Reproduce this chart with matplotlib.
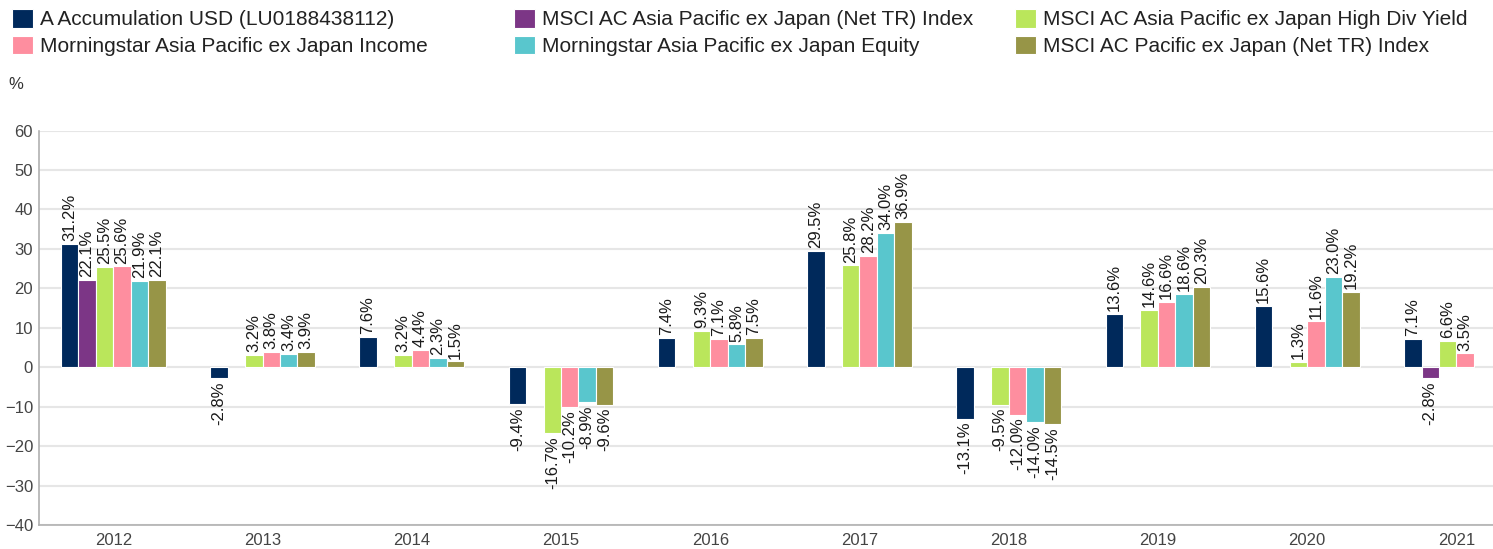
import numpy as np
import matplotlib
matplotlib.use('Agg')
import matplotlib.pyplot as plt

plt.rcParams['font.family'] = ['Liberation Sans', 'DejaVu Sans']

# Calendar year returns (%)
years = ['2012', '2013', '2014', '2015', '2016', '2017', '2018', '2019', '2020', '2021']
nan = np.nan
fund = [31.2, -2.8, 7.6, -9.4, 7.4, 29.5, -13.1, 13.6, 15.6, 7.1]
msci_apxj = [22.1, nan, nan, nan, nan, nan, nan, nan, nan, -2.8]
msci_hdy = [25.5, 3.2, 3.2, -16.7, 9.3, 25.8, -9.5, 14.6, 1.3, 6.6]
ms_income = [25.6, 3.8, 4.4, -10.2, 7.1, 28.2, -12.0, 16.6, 11.6, 3.5]
ms_equity = [21.9, 3.4, 2.3, -8.9, 5.8, 34.0, -14.0, 18.6, 23.0, nan]
msci_pxj = [22.1, 3.9, 1.5, -9.6, 7.5, 36.9, -14.5, 20.3, 19.2, nan]

series = [fund, msci_apxj, msci_hdy, ms_income, ms_equity, msci_pxj]
names = ['A Accumulation USD (LU0188438112)',
         'MSCI AC Asia Pacific ex Japan (Net TR) Index',
         'MSCI AC Asia Pacific ex Japan High Div Yield',
         'Morningstar Asia Pacific ex Japan Income',
         'Morningstar Asia Pacific ex Japan Equity',
         'MSCI AC Pacific ex Japan (Net TR) Index']
colors = ['#00295b', '#7c3686', '#bae65b', '#fe8e9f', '#59c6cd', '#979547']

fig = plt.figure(figsize=(14.93, 5.49), dpi=100)
ax = fig.add_axes([0.0259, 0.0437, 1 - 0.0259, 0.7184])

x = np.arange(len(years))
w = 0.117
bars = []
for i, (vals, c) in enumerate(zip(series, colors)):
    vals = np.array(vals, dtype=float)
    pos = x + (i - 2.5) * w
    b = ax.bar(pos, vals, width=w, color=c, edgecolor='white', linewidth=0.8, zorder=3)
    bars.append(b)
    for px, v in zip(pos, vals):
        if np.isnan(v):
            continue
        ax.annotate(f'{v:.1f}%', (px, v), xytext=(0, 2 if v >= 0 else -2),
                    textcoords='offset points', rotation=90, ha='center',
                    va='bottom' if v >= 0 else 'top', fontsize=12, color='#1a1a1a',
                    zorder=4)

ax.set_xlim(-0.5, 9.245)
ax.set_ylim(-40, 60)
ax.set_yticks(range(-40, 61, 10))
ax.set_xticks(x)
ax.set_xticklabels(years)
ax.tick_params(axis='both', length=0, labelsize=12, labelcolor='#444444')
ax.tick_params(axis='x', pad=6)
ax.tick_params(axis='y', pad=4)
ax.grid(axis='y', color='#e6e6e6', linewidth=1.5, zorder=0)
for s in ['top', 'right']:
    ax.spines[s].set_visible(False)
for s in ['left', 'bottom']:
    ax.spines[s].set_color('#b0b0b0')
    ax.spines[s].set_linewidth(1.2)

fig.text(0.0055, 0.846, '%', fontsize=12, color='#333333', va='center')

# legend laid out as three columns
col_x = [12, 514, 1015]
for k, cx in enumerate(col_x):
    idx = [k, k + 3]
    fig.legend([bars[j] for j in idx], [names[j] for j in idx],
               loc='upper left', bbox_to_anchor=(cx / 1493, 1 - 9 / 549),
               frameon=False, fontsize=15, handlelength=1.0, handleheight=1.0,
               handletextpad=0.35, labelspacing=0.3, borderpad=0, borderaxespad=0,
               labelcolor='#222222')

fig.savefig('out.png', dpi=100)
